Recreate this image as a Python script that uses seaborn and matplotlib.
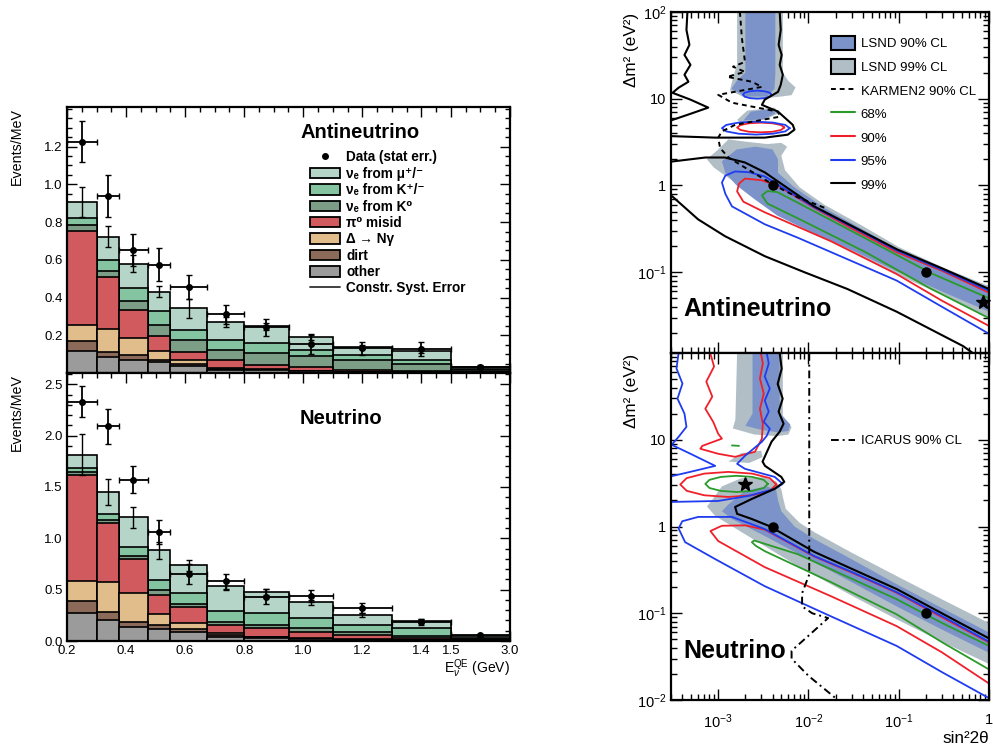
import numpy as np
import pandas as pd
import matplotlib
matplotlib.use("Agg")
import matplotlib.pyplot as plt
import seaborn as sns
from matplotlib.patches import Patch
from matplotlib.lines import Line2D
from matplotlib.ticker import FixedLocator, MultipleLocator, FuncFormatter, LogLocator, NullFormatter

sns.set_theme(style="ticks")
plt.rcParams['font.family'] = ['Liberation Sans', 'DejaVu Sans']
plt.rcParams['mathtext.fontset'] = 'custom'
plt.rcParams['mathtext.rm'] = 'Liberation Sans'
plt.rcParams['mathtext.it'] = 'Liberation Sans:italic'
plt.rcParams['mathtext.bf'] = 'Liberation Sans:bold'
plt.rcParams['text.color'] = 'black'
plt.rcParams['xtick.color'] = 'black'
plt.rcParams['ytick.color'] = 'black'
plt.rcParams['axes.labelcolor'] = 'black'

# ---------------- left: E_nu^QE spectra (events / MeV) ----------------
edges = [0.2, 0.3, 0.375, 0.475, 0.55, 0.675, 0.8, 0.95, 1.1, 1.3, 1.5, 3.0]
xticks_gev = [0.2, 0.4, 0.6, 0.8, 1.0, 1.2, 1.4, 1.5, 3.0]
xtick_labels = ['0.2', '0.4', '0.6', '0.8', '1.0', '1.2', '1.4', '1.5', '3.0']

# components, bottom of the stack first
comp_names = ['other', 'dirt', 'delta', 'pi0', 'k0', 'kpm', 'mu']
comp_colors = {'other': '#9b9b9b', 'dirt': '#8c6a5a', 'delta': '#e1bd8c', 'pi0': '#d05a5e',
               'k0': '#7c9e86', 'kpm': '#84c4a1', 'mu': '#b4d5c8'}
comp_labels = {'mu': 'νₑ from μ⁺/⁻', 'kpm': 'νₑ from K⁺/⁻', 'k0': 'νₑ from K⁰', 'pi0': 'π⁰ misid',
               'delta': 'Δ → Nγ', 'dirt': 'dirt', 'other': 'other'}

anti_other = [0.115, 0.083, 0.071, 0.056, 0.039, 0.018, 0.014, 0.009, 0.005, 0.003, 0.002]
anti_dirt = [0.053, 0.028, 0.022, 0.015, 0.009, 0.005, 0.004, 0.002, 0.001, 0.001, 0.001]
anti_delta = [0.088, 0.122, 0.092, 0.044, 0.023, 0.003, 0.003, 0.002, 0.001, 0.001, 0.001]
anti_pi0 = [0.499, 0.275, 0.150, 0.079, 0.040, 0.041, 0.023, 0.019, 0.011, 0.004, 0.002]
anti_k0 = [0.030, 0.033, 0.048, 0.062, 0.062, 0.056, 0.062, 0.056, 0.049, 0.040, 0.008]
anti_kpm = [0.035, 0.059, 0.070, 0.070, 0.056, 0.053, 0.053, 0.035, 0.026, 0.022, 0.006]
anti_mu = [0.088, 0.123, 0.127, 0.106, 0.115, 0.094, 0.088, 0.067, 0.045, 0.044, 0.010]
anti_data = [1.226, 0.938, 0.651, 0.575, 0.457, 0.312, 0.243, 0.153, 0.130, 0.127, 0.030]
anti_stat = [0.11, 0.113, 0.085, 0.088, 0.065, 0.05, 0.045, 0.05, 0.035, 0.035, 0.01]
anti_syst = [0.08, 0.055, 0.045, 0.03, 0.05, 0.025, 0.02, 0.015, 0.012, 0.01, 0.005]

nu_other = [0.27, 0.205, 0.14, 0.114, 0.091, 0.042, 0.033, 0.02, 0.01, 0.006, 0.003]
nu_dirt = [0.124, 0.081, 0.049, 0.042, 0.023, 0.017, 0.005, 0.003, 0.002, 0.001, 0.001]
nu_delta = [0.195, 0.284, 0.276, 0.108, 0.059, 0.016, 0.004, 0.003, 0.003, 0.002, 0.001]
nu_pi0 = [1.031, 0.579, 0.335, 0.185, 0.156, 0.081, 0.082, 0.065, 0.044, 0.024, 0.007]
nu_k0 = [0.027, 0.026, 0.024, 0.049, 0.029, 0.033, 0.032, 0.039, 0.032, 0.019, 0.008]
nu_kpm = [0.039, 0.065, 0.091, 0.098, 0.108, 0.107, 0.114, 0.098, 0.065, 0.072, 0.012]
nu_mu = [0.13, 0.212, 0.289, 0.286, 0.27, 0.244, 0.205, 0.15, 0.098, 0.071, 0.013]
nu_data = [2.33, 2.093, 1.572, 1.061, 0.654, 0.58, 0.433, 0.44, 0.319, 0.182, 0.059]
nu_stat = [0.15, 0.17, 0.13, 0.12, 0.1, 0.07, 0.07, 0.06, 0.05, 0.03, 0.01]
nu_syst = [0.2, 0.13, 0.1, 0.08, 0.05, 0.04, 0.03, 0.025, 0.02, 0.015, 0.005]

# ---------------- right: sin^2 2theta vs dm^2 contours ----------------
anti_lsnd99 = [
    [(1.62e-3, 100), (5.2e-3, 100), (5.2e-3, 20), (6.0e-3, 16), (7.2e-3, 13.5), (6.5e-3, 11), (5.0e-3, 10.6),
     (3.5e-3, 10.2), (2.0e-3, 10.2), (1.35e-3, 12.5), (1.45e-3, 17), (1.62e-3, 25)],
    [(1.62e-3, 5.7), (2.1e-3, 7.3), (4.2e-3, 7.9), (4.8e-3, 6.9), (3.3e-3, 5.75), (1.8e-3, 5.3)],
    [(7.5e-4, 2.0), (1.0e-3, 2.6), (1.3e-3, 3.4), (2.0e-3, 3.2), (3.5e-3, 3.0), (5.0e-3, 3.1), (5.8e-3, 2.8),
     (5.0e-3, 2.2), (5.5e-3, 1.5), (8e-3, 0.95), (1.5e-2, 0.6), (4e-2, 0.34), (0.1, 0.195), (0.3, 0.115),
     (1.0, 0.069), (1.0, 0.03), (0.3, 0.055), (0.1, 0.092), (2.5e-2, 0.19), (8e-3, 0.36), (3e-3, 0.62),
     (1.5e-3, 1.1), (9e-4, 1.6)],
]
anti_lsnd90 = [
    [(2.0e-3, 100), (4.3e-3, 100), (4.3e-3, 20), (4.2e-3, 13), (3.5e-3, 10.6), (2.0e-3, 10.6), (1.4e-3, 13),
     (1.6e-3, 16), (2.0e-3, 20)],
    [(1.9e-3, 5.6), (2.3e-3, 7.1), (3.9e-3, 7.6), (4.3e-3, 6.8), (3.2e-3, 5.8)],
    [(1.1e-3, 1.9), (1.6e-3, 2.6), (2.6e-3, 2.8), (4.0e-3, 2.6), (4.6e-3, 2.0), (4.6e-3, 1.4), (7e-3, 0.95),
     (1.5e-2, 0.55), (4e-2, 0.31), (0.1, 0.18), (0.3, 0.108), (1.0, 0.064), (1.0, 0.035), (0.3, 0.06),
     (0.1, 0.1), (3e-2, 0.18), (1e-2, 0.3), (4.5e-3, 0.45), (2.5e-3, 0.7), (1.6e-3, 1.0), (1.2e-3, 1.4)],
]
anti_karmen = [(1.74e-3, 100), (1.83e-3, 50), (1.98e-3, 26.6), (1.46e-3, 23.4), (1.98e-3, 20.4), (1.26e-3, 17.9),
               (2.36e-3, 15.7), (3.05e-3, 13.7), (1.0e-3, 11.1), (1.42e-3, 9.0), (4.6e-3, 7.1), (4.8e-3, 6.2),
               (3.05e-3, 5.7), (1.54e-3, 5.0), (1.1e-3, 4.2), (1.0e-3, 3.56), (1.05e-3, 2.7), (1.3e-3, 2.1),
               (2.14e-3, 1.53), (4.2e-3, 1.0), (7.6e-3, 0.73), (1.6e-2, 0.54)]
anti_c99 = [
    [(4.56e-4, 100), (4.45e-4, 62), (4.8e-4, 41.8), (4.23e-4, 32), (4.93e-4, 24.6), (4.23e-4, 18.9),
     (4.68e-4, 15.7), (3.64e-4, 13.4), (3.12e-4, 11.7), (4.93e-4, 9.76), (7.76e-4, 7.9), (4.93e-4, 6.7),
     (3.12e-4, 5.7), (2.6e-4, 5.4)],
    [(4.8e-3, 100), (4.93e-3, 62), (4.67e-3, 41.8), (5.05e-3, 32), (4.8e-3, 24.6), (5.2e-3, 18.9),
     (4.93e-3, 14.5), (4.6e-3, 12), (3.28e-3, 9.76), (3.05e-3, 8.5), (4.6e-3, 7.1), (6.7e-3, 5.0),
     (7.0e-3, 4.4), (5.9e-3, 3.85), (3.28e-3, 3.56), (9.3e-4, 3.56), (3.12e-4, 3.7), (2.5e-4, 3.75)],
    [(2.5e-4, 1.85), (3.1e-4, 1.89), (7.2e-4, 2.1), (1.19e-3, 2.1), (1.98e-3, 1.84), (3.3e-3, 1.41),
     (4.6e-3, 1.11), (1.16e-2, 0.574), (3e-2, 0.343), (0.095, 0.184), (0.3, 0.111), (1.0, 0.064)],
    [(2.5e-4, 0.85), (3.1e-4, 0.748), (6.0e-4, 0.406), (1.19e-3, 0.26), (3.28e-3, 0.153), (9.0e-3, 0.1),
     (2.7e-2, 0.064), (0.095, 0.035), (0.52, 0.014), (0.66, 0.0117), (0.8, 0.0098)],
]
anti_c95 = [
    [(1.0, 0.061), (0.3, 0.107), (0.095, 0.178), (3e-2, 0.335), (1.16e-2, 0.56), (4.6e-3, 1.02), (3.28e-3, 1.27),
     (2.2e-3, 1.42), (1.54e-3, 1.45), (1.2e-3, 1.3), (1.1e-3, 1.08), (1.2e-3, 0.8), (1.42e-3, 0.574),
     (3.28e-3, 0.357), (7.6e-3, 0.25), (0.095, 0.08), (0.3, 0.04), (1.0, 0.0195)],
    [(3.9e-3, 11.13), (3.71e-3, 11.75), (3.25e-3, 12.2), (2.71e-3, 12.4), (2.25e-3, 12.2), (1.97e-3, 11.75),
     (1.88e-3, 11.13), (1.97e-3, 10.55), (2.25e-3, 10.15), (2.71e-3, 10.0), (3.25e-3, 10.15), (3.71e-3, 10.55),
     (3.9e-3, 11.13)],
    [(6.2e-3, 4.58), (5.53e-3, 4.99), (4.03e-3, 5.31), (2.61e-3, 5.44), (1.69e-3, 5.31), (1.23e-3, 4.99),
     (1.1e-3, 4.58), (1.23e-3, 4.2), (1.69e-3, 3.95), (2.61e-3, 3.86), (4.03e-3, 3.95), (5.53e-3, 4.2),
     (6.2e-3, 4.58)],
]
anti_c90 = [
    [(1.0, 0.058), (0.3, 0.104), (0.095, 0.17), (3e-2, 0.32), (1.16e-2, 0.55), (4.6e-3, 0.99), (3.0e-3, 1.15),
     (1.98e-3, 1.2), (1.7e-3, 1.05), (1.62e-3, 0.853), (1.9e-3, 0.65), (3.28e-3, 0.49), (1.78e-2, 0.227),
     (0.095, 0.095), (0.3, 0.047), (1.0, 0.024)],
    [(5.4e-3, 4.66), (4.98e-3, 4.97), (4.0e-3, 5.21), (2.96e-3, 5.3), (2.19e-3, 5.21), (1.76e-3, 4.97),
     (1.62e-3, 4.66), (1.76e-3, 4.37), (2.19e-3, 4.16), (2.96e-3, 4.1), (4.0e-3, 4.16), (4.98e-3, 4.37),
     (5.4e-3, 4.66)],
]
anti_c68 = [
    [(1.0, 0.05), (0.23, 0.097), (0.043, 0.245), (7.9e-3, 0.62), (4.5e-3, 0.84), (3.5e-3, 0.86), (3.05e-3, 0.77),
     (3.5e-3, 0.62), (7.9e-3, 0.41), (0.043, 0.17), (0.23, 0.064), (1.0, 0.0295)],
]
anti_best = [(4e-3, 1.0), (0.2, 0.1)]
anti_star = [(0.86, 0.045)]

nu_lsnd99 = [
    [(1.62e-3, 100), (5.2e-3, 100), (5.2e-3, 19), (6.5e-3, 14), (6.0e-3, 11.5), (4.5e-3, 11.0), (2.5e-3, 11.5),
     (1.45e-3, 13.5), (1.55e-3, 17)],
    [(1.3e-3, 5.6), (1.8e-3, 7.0), (3.0e-3, 7.5), (3.1e-3, 6.3), (2.2e-3, 5.4)],
    [(8.5e-4, 2.0), (1.1e-3, 2.9), (1.8e-3, 3.6), (3.2e-3, 3.7), (4.4e-3, 3.3), (5.0e-3, 2.7), (5.2e-3, 2.2),
     (5.6e-3, 1.6), (8e-3, 1.1), (1.16e-2, 0.86), (3e-2, 0.5), (0.095, 0.268), (0.3, 0.145), (1.0, 0.077),
     (1.0, 0.026), (0.3, 0.047), (0.095, 0.085), (3e-2, 0.16), (7.6e-3, 0.35), (2.14e-3, 0.776),
     (9.3e-4, 1.32), (7.5e-4, 1.7)],
]
nu_lsnd90 = [
    [(2.4e-3, 100), (4.8e-3, 100), (4.8e-3, 20), (6.3e-3, 15), (6.0e-3, 12.6), (4.5e-3, 12.2), (3.0e-3, 13),
     (2.0e-3, 14.5), (2.4e-3, 20)],
    [(1.3e-3, 1.8), (2.0e-3, 2.6), (3.5e-3, 2.9), (4.4e-3, 2.6), (4.6e-3, 2.0), (5.0e-3, 1.5), (7.0e-3, 1.0),
     (1.16e-2, 0.716), (3e-2, 0.42), (0.095, 0.216), (0.3, 0.115), (1.0, 0.06), (1.0, 0.035), (0.3, 0.065),
     (0.095, 0.12), (1.78e-2, 0.306), (3.28e-3, 0.776), (1.42e-3, 1.22), (1.1e-3, 1.5)],
]
nu_icarus = [(1.02e-2, 100), (1.02e-2, 0.28), (8.5e-3, 0.17), (8.5e-3, 0.12), (1.1e-2, 0.1), (1.65e-2, 0.088),
             (1.0e-2, 0.055), (6.5e-3, 0.037), (6.5e-3, 0.03), (1.0e-2, 0.019), (2.0e-2, 0.0105)]
nu_c99 = [
    [(4.8e-3, 100), (5.05e-3, 66), (4.56e-3, 44), (5.18e-3, 29.8), (4.67e-3, 21.1), (5.3e-3, 15.3),
     (4.8e-3, 12.4), (3.9e-3, 9.5), (3.1e-3, 5.6), (3.3e-3, 5.0), (5.0e-3, 3.73), (5.4e-3, 3.27),
     (4.2e-3, 2.71), (2.36e-3, 2.08), (1.54e-3, 1.68), (1.62e-3, 1.4), (2.36e-3, 1.22), (3.7e-3, 1.01),
     (1.16e-2, 0.51), (3e-2, 0.326), (0.095, 0.19), (0.3, 0.1), (1.0, 0.0513)],
]
nu_c95 = [
    [(3.64e-4, 100), (3.45e-4, 66.2), (4.02e-4, 44.4), (3.54e-4, 29.8), (4.23e-4, 20), (4.45e-4, 14.1),
     (3.64e-4, 10.8), (3.05e-4, 8.75), (4.93e-4, 6.89), (9.27e-4, 5.0), (4.93e-4, 4.27), (2.82e-4, 3.73)],
    [(3.45e-3, 100), (3.63e-3, 75.7), (3.28e-3, 53.5), (3.73e-3, 38.9), (3.28e-3, 28.3), (3.63e-3, 21.1),
     (3.2e-3, 16.1), (3.73e-3, 13.4), (3.45e-3, 11.1), (3.05e-3, 9.48), (1.98e-3, 6.53), (1.62e-3, 5.28),
     (1.98e-3, 4.62), (4.23e-3, 3.73), (5.18e-3, 3.1), (4.23e-3, 2.71), (2.14e-3, 2.25), (1.0e-3, 1.97),
     (3.12e-4, 1.92), (2.6e-4, 1.92)],
    [(1.0, 0.047), (0.3, 0.093), (0.095, 0.175), (3e-2, 0.30), (1.16e-2, 0.456), (3.28e-3, 0.935),
     (1.42e-3, 1.29), (6.0e-4, 1.29), (4.0e-4, 1.15), (3.64e-4, 0.95), (4.3e-4, 0.66), (9.3e-4, 0.42),
     (3.28e-3, 0.205), (1.78e-2, 0.092), (0.095, 0.042), (0.3, 0.021), (1.0, 0.0105)],
]
nu_c90 = [
    [(8.16e-4, 100), (9.0e-4, 69.8), (7.38e-4, 46.8), (8.6e-4, 31.4), (7.2e-4, 22.8), (8.8e-4, 16.1),
     (1.0e-3, 11.7), (1.1e-3, 10.3), (6.67e-4, 8.5), (6.34e-4, 7.87), (1.0e-3, 6.89), (1.54e-3, 6.36),
     (2.55e-3, 7.26), (3.05e-3, 10.3), (3.12e-3, 15.3), (2.9e-3, 22.8), (3.2e-3, 34.0), (2.9e-3, 50.7),
     (3.12e-3, 75.7), (2.97e-3, 100)],
    [(4.4e-3, 3.05), (3.73e-3, 3.61), (2.38e-3, 4.07), (1.29e-3, 4.26), (7.0e-4, 4.07), (4.47e-4, 3.61),
     (3.8e-4, 3.05), (4.47e-4, 2.58), (7.0e-4, 2.29), (1.29e-3, 2.19), (2.38e-3, 2.29), (3.73e-3, 2.58),
     (4.4e-3, 3.05)],
    [(1.0, 0.046), (0.3, 0.09), (0.095, 0.172), (3e-2, 0.295), (1.16e-2, 0.45), (3.28e-3, 0.92), (2.0e-3, 1.03),
     (1.1e-3, 1.02), (8.2e-4, 0.887), (1.0e-3, 0.68), (3.28e-3, 0.34), (1.78e-2, 0.157), (0.095, 0.071),
     (0.3, 0.0355), (1.0, 0.0155)],
]
nu_c68 = [
    [(3.55e-3, 3.1), (3.19e-3, 3.45), (2.38e-3, 3.73), (1.6e-3, 3.84), (1.07e-3, 3.73), (8.0e-4, 3.45),
     (7.2e-4, 3.1), (8.0e-4, 2.78), (1.07e-3, 2.57), (1.6e-3, 2.5), (2.38e-3, 2.57), (3.19e-3, 2.78),
     (3.55e-3, 3.1)],
    [(1.42e-3, 8.6), (1.7e-3, 8.5)],
    [(1.0, 0.042), (0.3, 0.0775), (0.095, 0.145), (7.6e-3, 0.48), (2.5e-3, 0.69), (2.36e-3, 0.66),
     (2.6e-3, 0.6), (3.28e-3, 0.52), (1.78e-2, 0.228), (0.095, 0.097), (0.3, 0.0465), (1.0, 0.0225)],
]
nu_best = [(4e-3, 1.0), (0.2, 0.1)]
nu_star = [(2e-3, 3.1)]

lsnd90_color = '#7b93c8'
lsnd99_color = '#b1bec6'
cl_colors = {'68%': '#2a9a2a', '90%': '#f0202a', '95%': '#1f3cf0', '99%': 'black'}


def squash(e):
    # the 1.5 - 3.0 GeV bin is drawn compressed
    e = np.asarray(e, dtype=float)
    return np.where(e <= 1.5, e, 1.5 + (e - 1.5) * 0.2 / 1.5)


def xy(pts):
    s, m = zip(*pts)
    return list(s), list(m)


fig = plt.figure(figsize=(9.93, 7.52), dpi=100)
ax_a = fig.add_axes([67 / 993, 379 / 752, 443 / 993, 266 / 752])
ax_n = fig.add_axes([67 / 993, 111 / 752, 443 / 993, 268 / 752])
ax_ra = fig.add_axes([671 / 993, 399 / 752, 318 / 993, 341 / 752])
ax_rn = fig.add_axes([671 / 993, 52 / 752, 318 / 993, 347 / 752])

ex = squash(edges)
centers = (ex[:-1] + ex[1:]) / 2
halfw = (ex[1:] - ex[:-1]) / 2


def draw_stack(ax, comps, data, stat, syst):
    cum = np.cumsum(np.array([comps[c] for c in comp_names]), axis=0)
    # draw from the top layer down so each layer covers the ones above it
    for i in range(len(comp_names) - 1, -1, -1):
        df = pd.DataFrame({'E': centers, 'rate': cum[i]})
        sns.histplot(data=df, x='E', weights='rate', bins=list(ex), color=comp_colors[comp_names[i]],
                     edgecolor='black', linewidth=1.2, alpha=1, ax=ax)
    total = cum[-1]
    ax.errorbar(centers, total, yerr=syst, fmt='none', ecolor='black', elinewidth=1.0, capsize=2)
    ax.errorbar(centers, data, xerr=halfw, yerr=stat, fmt='o', color='black', ms=4,
                elinewidth=1.3, capsize=2)
    ax.set_xlabel('')
    ax.set_ylabel('')


draw_stack(ax_a, dict(other=anti_other, dirt=anti_dirt, delta=anti_delta, pi0=anti_pi0, k0=anti_k0,
                      kpm=anti_kpm, mu=anti_mu), anti_data, anti_stat, anti_syst)
draw_stack(ax_n, dict(other=nu_other, dirt=nu_dirt, delta=nu_delta, pi0=nu_pi0, k0=nu_k0,
                      kpm=nu_kpm, mu=nu_mu), nu_data, nu_stat, nu_syst)

minor_x = [v for v in np.arange(0.2, 1.5, 0.05)] + [1.55, 1.6, 1.65]
for ax in (ax_a, ax_n):
    ax.set_xlim(ex[0], ex[-1])
    ax.xaxis.set_major_locator(FixedLocator(squash(xticks_gev)))
    ax.xaxis.set_minor_locator(FixedLocator(minor_x))
    ax.tick_params(which='both', direction='in', top=True, right=True, labelsize=9.5, width=1, color='black',
                   pad=3)
    ax.tick_params(which='major', length=7)
    ax.tick_params(which='minor', length=3.5)
    for sp in ax.spines.values():
        sp.set_linewidth(1.6)
        sp.set_color('black')
    ax.text(-0.113, 0.995, 'Events/MeV', rotation=90, ha='center', va='top', fontsize=10.3,
            transform=ax.transAxes)

ax_a.set_ylim(0, 1.41)
ax_a.yaxis.set_major_locator(FixedLocator([0.2, 0.4, 0.6, 0.8, 1.0, 1.2]))
ax_a.yaxis.set_minor_locator(MultipleLocator(0.05))
ax_a.set_xticklabels([])
ax_n.set_ylim(0, 2.61)
ax_n.yaxis.set_major_locator(MultipleLocator(0.5))
ax_n.yaxis.set_minor_locator(MultipleLocator(0.1))
ax_n.set_xticklabels(xtick_labels)
ax_n.text(1.0, -0.063, r'$\mathrm{E}_{\nu}^{\mathrm{QE}}$ (GeV)', ha='right', va='top', fontsize=10,
          transform=ax_n.transAxes)

ax_a.text(0.526, 0.906, 'Antineutrino', fontsize=14.5, fontweight='bold', ha='left', va='center',
          transform=ax_a.transAxes)
ax_n.text(0.526, 0.832, 'Neutrino', fontsize=14.5, fontweight='bold', ha='left', va='center',
          transform=ax_n.transAxes)

handles = [Line2D([], [], marker='o', color='black', ls='none', ms=4)]
labels = ['Data (stat err.)']
for c in ['mu', 'kpm', 'k0', 'pi0', 'delta', 'dirt', 'other']:
    handles.append(Patch(facecolor=comp_colors[c], edgecolor='black', linewidth=1.3))
    labels.append(comp_labels[c])
handles.append(Line2D([], [], color='#333333', lw=1.3))
labels.append('Constr. Syst. Error')
ax_a.legend(handles, labels, loc='upper left', bbox_to_anchor=(0.549, 0.837), frameon=False,
            prop={'size': 9.8, 'weight': 'bold'}, handlelength=2.2, handleheight=0.8, handletextpad=0.45,
            labelspacing=0.175, borderaxespad=0, borderpad=0)


# ---------------- right panels ----------------
def dec_fmt(v, pos):
    e = int(round(np.log10(v)))
    if e == 0:
        return '1'
    if e == 1:
        return '10'
    return r'$10^{%d}$' % e


def draw_contours(ax, lsnd99, lsnd90, c68, c90, c95, c99):
    for poly in lsnd99:
        s, m = xy(poly)
        ax.fill(s, m, color=lsnd99_color, lw=0)
    for poly in lsnd90:
        s, m = xy(poly)
        ax.fill(s, m, color=lsnd90_color, lw=0)
    for key, curves in (('68%', c68), ('90%', c90), ('95%', c95), ('99%', c99)):
        for pts in curves:
            s, m = xy(pts)
            ax.plot(s, m, color=cl_colors[key], lw=1.5 if key == '99%' else 1.3)


draw_contours(ax_ra, anti_lsnd99, anti_lsnd90, anti_c68, anti_c90, anti_c95, anti_c99)
s, m = xy(anti_karmen)
ax_ra.plot(s, m, color='black', lw=1.4, ls=(0, (2.5, 2)))
s, m = xy(anti_best)
ax_ra.plot(s, m, 'o', color='black', ms=6.5)
s, m = xy(anti_star)
ax_ra.plot(s, m, '*', color='black', ms=10, clip_on=False)

draw_contours(ax_rn, nu_lsnd99, nu_lsnd90, nu_c68, nu_c90, nu_c95, nu_c99)
s, m = xy(nu_icarus)
ax_rn.plot(s, m, color='black', lw=1.4, ls=(0, (4, 2, 1, 2)))
s, m = xy(nu_best)
ax_rn.plot(s, m, 'o', color='black', ms=6.5)
s, m = xy(nu_star)
ax_rn.plot(s, m, '*', color='black', ms=10)

ax_ra.set_ylim(0.0117, 100)
ax_rn.set_ylim(0.01, 100)
for ax in (ax_ra, ax_rn):
    ax.set_xscale('log')
    ax.set_yscale('log')
    ax.set_xlim(3e-4, 1)
    ax.xaxis.set_major_locator(FixedLocator([1e-3, 1e-2, 1e-1, 1]))
    ax.xaxis.set_minor_locator(LogLocator(base=10, subs=np.arange(2, 10), numticks=20))
    ax.yaxis.set_major_locator(FixedLocator([1e-2, 1e-1, 1, 10, 100]))
    ax.yaxis.set_minor_locator(LogLocator(base=10, subs=np.arange(2, 10), numticks=20))
    ax.xaxis.set_major_formatter(FuncFormatter(dec_fmt))
    ax.yaxis.set_major_formatter(FuncFormatter(dec_fmt))
    ax.xaxis.set_minor_formatter(NullFormatter())
    ax.yaxis.set_minor_formatter(NullFormatter())
    ax.tick_params(which='both', direction='in', top=True, right=True, labelsize=10.5, width=1, color='black')
    ax.tick_params(which='major', length=8)
    ax.tick_params(which='minor', length=4)
    ax.tick_params(axis='x', which='major', pad=9)
    for sp in ax.spines.values():
        sp.set_linewidth(1.6)
        sp.set_color('black')
    ax.text(-0.125, 0.997, 'Δm² (eV²)', rotation=90, ha='center', va='top', fontsize=12.3,
            transform=ax.transAxes)
ax_ra.set_xticklabels([])
ax_rn.yaxis.set_major_formatter(FuncFormatter(lambda v, p: '' if v > 50 else dec_fmt(v, p)))
ax_rn.text(1.0, -0.09, 'sin²2θ', ha='right', va='top', fontsize=12.3, transform=ax_rn.transAxes)

ax_ra.text(0.038, 0.129, 'Antineutrino', fontsize=18, fontweight='bold', ha='left', va='center',
           transform=ax_ra.transAxes)
ax_rn.text(0.038, 0.141, 'Neutrino', fontsize=18, fontweight='bold', ha='left', va='center',
           transform=ax_rn.transAxes)

r_handles = [Patch(facecolor=lsnd90_color, edgecolor='black', linewidth=1.5),
             Patch(facecolor=lsnd99_color, edgecolor='black', linewidth=1.5),
             Line2D([], [], color='black', lw=1.4, ls=(0, (2.5, 2)))]
r_labels = ['LSND 90% CL', 'LSND 99% CL', 'KARMEN2 90% CL']
for key in ['68%', '90%', '95%', '99%']:
    r_handles.append(Line2D([], [], color=cl_colors[key], lw=1.5))
    r_labels.append(key)
ax_ra.legend(r_handles, r_labels, loc='upper left', bbox_to_anchor=(0.503, 0.93), frameon=False,
             fontsize=9.5, handlelength=1.85, handleheight=1.3, handletextpad=0.4, labelspacing=0.68,
             borderaxespad=0, borderpad=0)
ax_rn.legend([Line2D([], [], color='black', lw=1.4, ls=(0, (4, 2, 1, 2)))], ['ICARUS 90% CL'],
             loc='center left', bbox_to_anchor=(0.503, 0.746), frameon=False, fontsize=9.5,
             handlelength=1.85, handletextpad=0.4, borderaxespad=0, borderpad=0)

fig.savefig('out.png', dpi=100)
